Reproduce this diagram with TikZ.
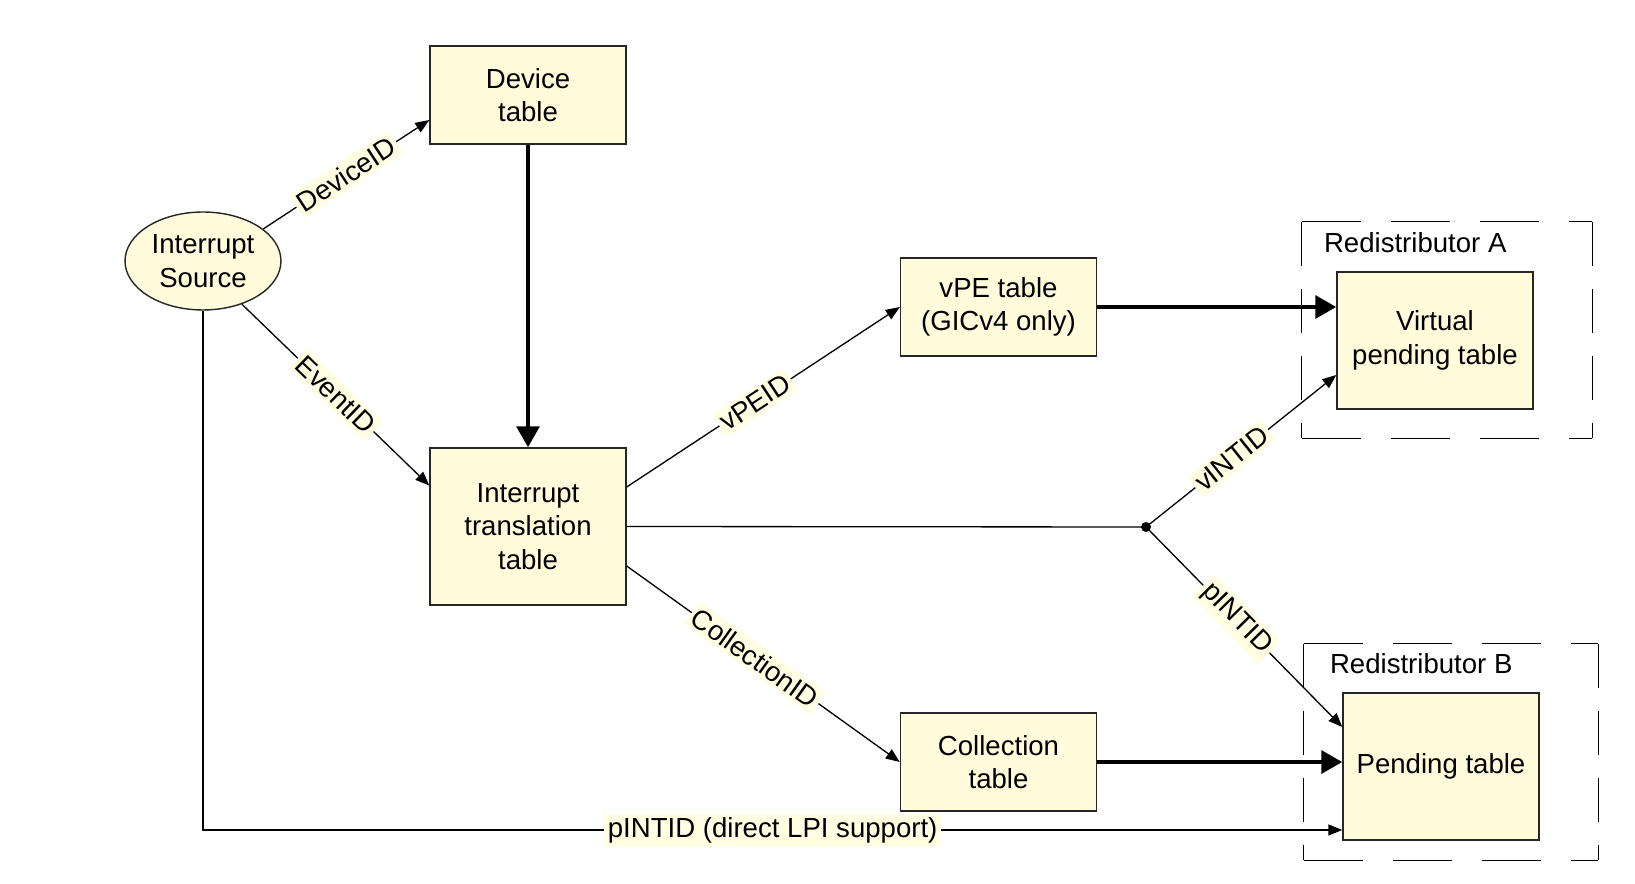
\documentclass[tikz,border=0pt]{standalone}
\usepackage{fontspec}
\setmainfont{Liberation Sans}
\usetikzlibrary{shapes.geometric,arrows.meta}

\definecolor{boxfill}{RGB}{255,251,219}
\definecolor{labelfill}{RGB}{255,253,226}

\begin{document}
\begin{tikzpicture}[x=0.02cm, y=-0.02cm,
    font=\fontsize{15.7}{19}\selectfont,
    table/.style={draw=black!85, line width=0.8pt, fill=boxfill, align=center, minimum width=3.92cm, inner sep=0},
    source/.style={ellipse, draw=black!85, line width=0.8pt, fill=boxfill, align=center, minimum width=3.12cm, minimum height=1.96cm, inner sep=0},
    redist/.style={minimum width=#1, minimum height=4.32cm},
    hdash/.style={line width=0.8pt, dash pattern=on 1.18cm off 0.6cm},
    vdash/.style={line width=0.8pt, dash pattern=on 0.88cm off 0.46cm},
    idline/.style={line width=0.75pt, -{Triangle[length=0.28cm,width=0.22cm]}},
    bigline/.style={line width=2.6pt, -{Triangle[length=0.42cm,width=0.45cm]}},
    idlabel/.style={sloped, fill=labelfill, inner sep=2pt, pos=#1},
    idlabel/.default=0.5]
    \useasboundingbox (0,0) rectangle (1635,884);

    \node[source] (src) at (203,261) {Interrupt\\Source};
    \node[table, minimum height=1.96cm] (dev) at (528,95) {Device\\table};
    \node[table, minimum height=3.14cm] (itt) at (528,526.5) {Interrupt\\translation\\table};
    \node[table, minimum height=1.96cm] (vpe) at (998.5,307) {vPE table\\(GICv4 only)};
    \node[table, minimum height=1.96cm] (coll) at (998.5,762) {Collection\\table};

    \node[redist=5.8cm] (redA) at (1447,330) {};
    \node[redist=5.88cm] (redB) at (1451,752) {};
    \draw[hdash] (redA.north west) -- (redA.north east) (redA.south west) -- (redA.south east);
    \draw[vdash] (redA.north west) -- (redA.south west) (redA.north east) -- (redA.south east);
    \draw[hdash] (redB.north west) -- (redB.north east) (redB.south west) -- (redB.south east);
    \draw[vdash] (redB.north west) -- (redB.south west) (redB.north east) -- (redB.south east);
    \node[anchor=west, inner sep=0] (labA) at ([xshift=0.44cm,yshift=-0.42cm]redA.north west) {Redistributor A};
    \node[anchor=west, inner sep=0] (labB) at ([xshift=0.52cm,yshift=-0.4cm]redB.north west) {Redistributor B};
    \node[table, minimum height=2.74cm] (vpt) at (1435,340.5) {Virtual\\pending table};
    \node[table, minimum height=2.94cm] (pend) at (1441,766.5) {Pending table};

    \coordinate (fork) at (1146,527);
    \fill (fork) circle (0.1cm);

    \draw[idline] (src.28) -- node[idlabel] {DeviceID} ([yshift=-0.5cm]dev.west);
    \draw[idline] (src.-48) -- node[idlabel] {EventID} ([yshift=0.82cm]itt.west);
    \draw[bigline] (dev.south) -- (itt.north);
    \draw[idline] ([yshift=0.79cm]itt.east) -- node[idlabel=0.47] {vPEID} (vpe.west);
    \draw[idline] ([yshift=-0.79cm]itt.east) -- node[idlabel=0.47] {CollectionID} (coll.west);
    \draw[line width=0.75pt] (itt.east) -- (fork);
    \draw[idline] (fork) -- node[idlabel=0.45] {vINTID} ([yshift=-0.69cm]vpt.west);
    \draw[idline] (fork) -- node[idlabel=0.46] {pINTID} ([yshift=0.79cm]pend.west);
    \draw[bigline] (vpe.east) -- (vpe.east -| vpt.west);
    \draw[bigline] (coll.east) -- (coll.east -| pend.west);
    \draw[idline] (src.south) |- node[idlabel=0.75] {pINTID (direct LPI support)} ([yshift=-1.27cm]pend.west);
\end{tikzpicture}
\end{document}
